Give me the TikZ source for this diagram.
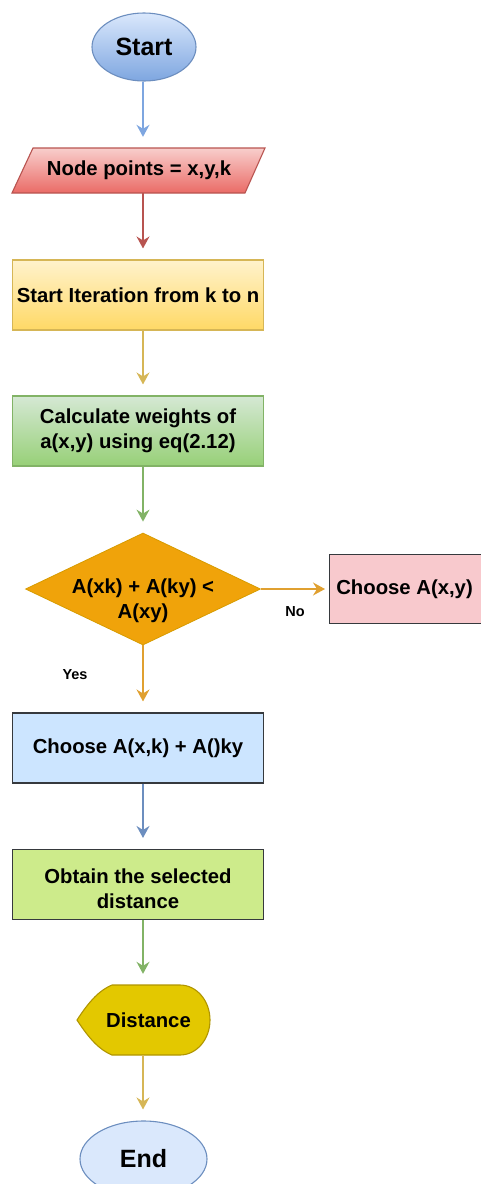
\documentclass[tikz,border=0pt]{standalone}
\usepackage{fontspec}
\setmainfont{Liberation Sans}
\usetikzlibrary{shapes.geometric,arrows.meta}
\definecolor{bluefill}{HTML}{DAE8FC}
\definecolor{bluedark}{HTML}{7EA6E0}
\definecolor{blueline}{HTML}{6C8EBF}
\definecolor{redlight}{HTML}{F8CECC}
\definecolor{reddark}{HTML}{EA6B66}
\definecolor{redline}{HTML}{B85450}
\definecolor{yellight}{HTML}{FFF2CC}
\definecolor{yeldark}{HTML}{FFD966}
\definecolor{yelline}{HTML}{D6B656}
\definecolor{grnlight}{HTML}{D5E8D4}
\definecolor{grndark}{HTML}{97D077}
\definecolor{grnline}{HTML}{82B366}
\definecolor{orgfill}{HTML}{F0A30A}
\definecolor{orgline}{HTML}{D79B00}
\definecolor{orgarrow}{HTML}{E0A030}
\definecolor{darkline}{HTML}{36393D}
\definecolor{pinkfill}{HTML}{F8C9CD}
\definecolor{skyfill}{HTML}{CCE5FF}
\definecolor{limefill}{HTML}{CDEB8B}
\definecolor{goldfill}{HTML}{E3C800}
\definecolor{goldline}{HTML}{B09500}
\tikzset{
  txt/.style={font=\bfseries\fontsize{20.3}{25}\selectfont, align=center},
  bigtxt/.style={font=\bfseries\fontsize{25}{30}\selectfont},
  smalltxt/.style={font=\bfseries\fontsize{14.5}{17}\selectfont},
  procbox/.style={txt, rectangle, line width=1.1pt, minimum width=251pt, minimum height=70pt, inner sep=2pt},
  arr/.style={line width=1.3pt, -{Stealth[length=12pt,width=13pt,inset=4pt]}, shorten >=11pt},
}
\begin{document}
\begin{tikzpicture}[x=1pt,y=-1pt]
\useasboundingbox (0,0) rectangle (481,1184);
\clip (0,0) rectangle (481,1184);
\coordinate (col) at (143,0);
% Start
\node[ellipse, draw=blueline, line width=1.1pt, top color=bluefill, bottom color=bluedark,
      minimum width=104pt, minimum height=68pt, bigtxt] (start) at (144,47) {Start};
% Input parallelogram
\path[draw=redline, line width=1.1pt, top color=redlight, bottom color=reddark]
  (33,148) -- (265,148) -- (245,193) -- (12,193) -- cycle;
\node[txt, minimum width=220pt, minimum height=45pt, inner sep=0pt] (io) at (139,170.5) {Node points = x,y,k};
% Iteration
\node[procbox, draw=yelline, top color=yellight, bottom color=yeldark] (iter) at (138,295) {Start Iteration from k to n};
% Calculate
\node[procbox, draw=grnline, top color=grnlight, bottom color=grndark] (calc) at (138,431) {Calculate weights of\\a(x,y) using eq(2.12)};
% Decision
\node[diamond, draw=orgline, fill=orgfill, line width=0.8pt, aspect=2.1,
      minimum width=235pt, minimum height=112pt, inner sep=0pt] (dec) at (143,589) {};
\node[txt, inner sep=0pt] (dectxt) at (143,601) {A(xk) + A(ky) <\\A(xy)};
% Choose A(x,y)
\node[procbox, draw=darkline, fill=pinkfill, minimum width=160pt, minimum height=69pt, anchor=west] (chxy) at (329,589) {\hspace*{-10pt}Choose A(x,y)};
% Choose A(x,k)
\node[procbox, draw=darkline, fill=skyfill] (chxk) at (138,748) {Choose A(x,k) + A()ky};
% Obtain
\node[procbox, draw=darkline, fill=limefill] (obt) at (138,884.5) {};
\node[txt, inner sep=0pt] (obttxt) at (138,889) {Obtain the selected\\distance};
% Display shape
\path[draw=goldline, fill=goldfill, line width=1.1pt]
  (77,1020) .. controls (90,1000) and (100,990) .. (112,985) -- (180,985)
  arc[start angle=90, end angle=-90, x radius=30, y radius=-35]
  -- (112,1055) .. controls (100,1050) and (90,1040) .. (77,1020) -- cycle;
\node[txt, minimum width=133pt, minimum height=70pt, inner sep=0pt] (disp) at (143.5,1020) {\hspace*{10pt}Distance};
% End
\node[ellipse, draw=blueline, line width=1.1pt, fill=bluefill,
      minimum width=127pt, minimum height=76pt, bigtxt] (end) at (143.5,1159) {End};
% Connectors
\draw[arr, bluedark] (start.south -| col) -- (io.north -| col);
\draw[arr, redline] (io.south -| col) -- (iter.north -| col);
\draw[arr, yelline] (iter.south -| col) -- (calc.north -| col);
\draw[arr, grnline] (calc.south -| col) -- (dec.north -| col);
\draw[arr, orgarrow, shorten >=4pt] (dec.east) -- (chxy.west);
\draw[arr, orgarrow] (dec.south) -- (chxk.north -| col);
\draw[arr, blueline] (chxk.south -| col) -- (obt.north -| col);
\draw[arr, grnline] (obt.south -| col) -- (disp.north -| col);
\draw[arr, yelline] (disp.south -| col) -- (end.north -| col);
% Labels
\node[smalltxt] (nolbl) at (295,612) {No};
\node[smalltxt] (yeslbl) at (75,675) {Yes};
\end{tikzpicture}
\end{document}
